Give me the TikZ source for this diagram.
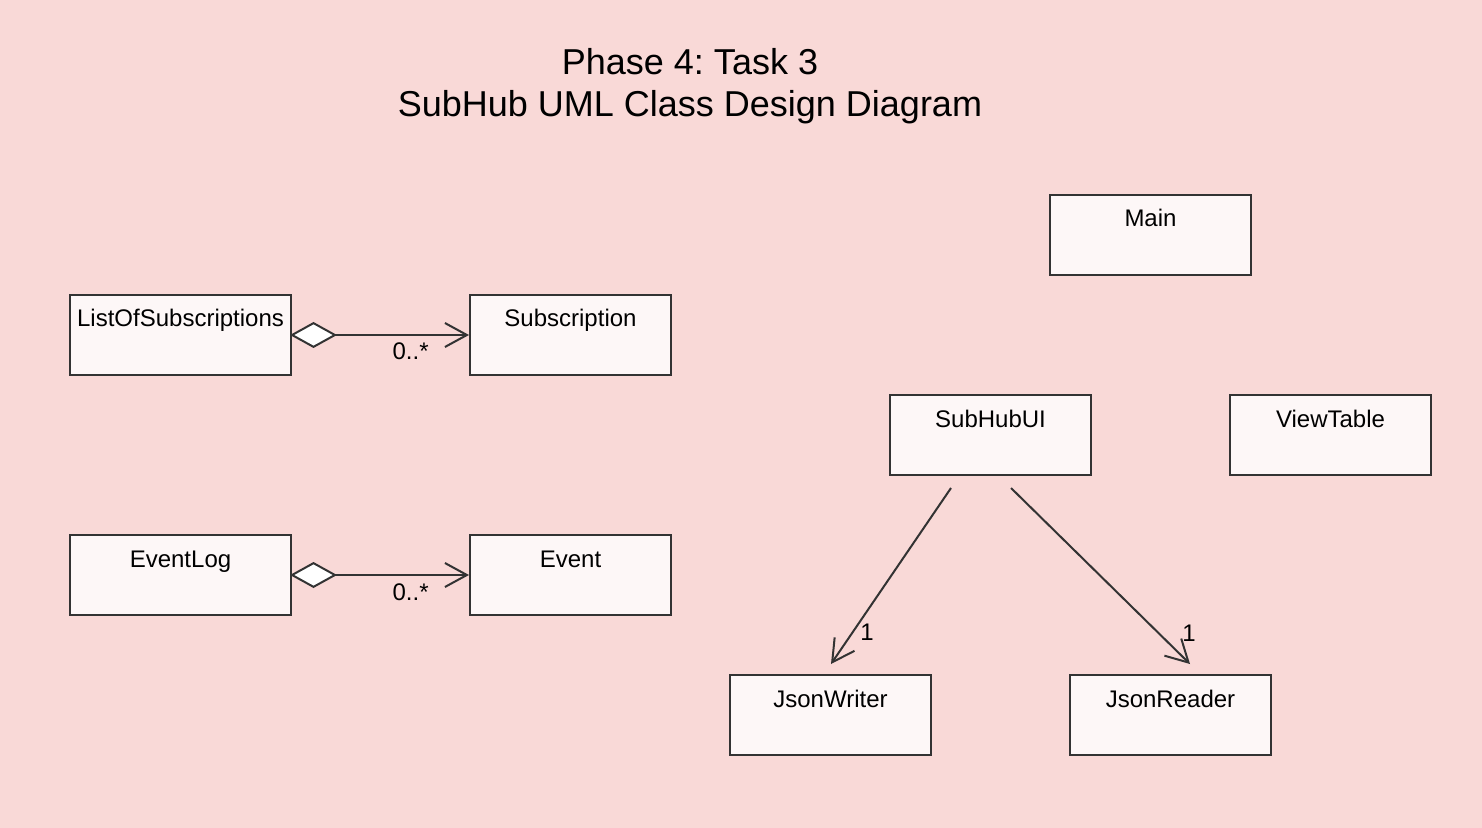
\documentclass[tikz,border=0pt]{standalone}
\usepackage{fontspec}
\setmainfont{Liberation Sans}
\frenchspacing
\usetikzlibrary{arrows.meta,calc}
\definecolor{bgpink}{HTML}{F9D9D7}
\definecolor{boxfill}{HTML}{FDF7F7}
\definecolor{stroke}{HTML}{333333}
\tikzset{
  cls/.style={draw=stroke, fill=boxfill, line width=1pt, minimum width=100.5pt, minimum height=40pt, inner sep=0pt},
  wide/.style={minimum width=110.5pt},
  lbl/.style={font=\fontsize{12}{14}\selectfont, text=black, anchor=base, yshift=-16.5pt, inner sep=0pt},
  mult/.style={font=\fontsize{12}{14}\selectfont, text=black, anchor=base, inner sep=0pt},
  agg/.style={draw=stroke, line width=1pt, shorten <=-1pt, {Diamond[fill=white,length=23.5pt,width=13pt]}-{Straight Barb[length=11pt,width=12pt,line width=1pt]}},
  assoc/.style={draw=stroke, line width=1pt, -{Straight Barb[length=11pt,width=12pt,line width=1pt]}},
  ttl/.style={font=\fontsize{18}{21}\selectfont, text=black, anchor=base, inner sep=0pt}
}
\begin{document}
\begin{tikzpicture}[x=0.5pt,y=-0.5pt]
\fill[bgpink] (0,0) rectangle (1482,828);
\useasboundingbox (0,0) rectangle (1482,828);
\node[ttl] (t1) at (690,75) {Phase 4: Task 3};
\node[ttl] (t2) at (690,117) {SubHub UML Class Design Diagram};

\node[cls,wide,label={[lbl]north:ListOfSubscriptions}] (los) at (180.5,335) {};
\node[cls,label={[lbl]north:Subscription}] (sub) at (570.5,335) {};
\node[cls,wide,label={[lbl]north:EventLog}] (elog) at (180.5,575) {};
\node[cls,label={[lbl]north:Event}] (ev) at (570.5,575) {};
\node[cls,label={[lbl]north:Main}] (main) at (1150.5,235) {};
\node[cls,label={[lbl]north:SubHubUI}] (ui) at (990.5,435) {};
\node[cls,label={[lbl]north:ViewTable}] (vt) at (1330.5,435) {};
\node[cls,label={[lbl]north:JsonWriter}] (jw) at (830.5,715) {};
\node[cls,label={[lbl]north:JsonReader}] (jr) at (1170.5,715) {};

\draw[agg] (los.east) -- node[mult, pos=0.67, yshift=-12.5pt] {0..*} (sub.west);
\draw[agg] (elog.east) -- node[mult, pos=0.67, yshift=-12.5pt] {0..*} (ev.west);

\coordinate (a1s) at ($(ui.south)+(-39.5,12)$);
\coordinate (a1e) at ($(jw.north)+(0.5,-10)$);
\coordinate (a2s) at ($(ui.south)+(20.5,12)$);
\coordinate (a2e) at ($(jr.north)+(19.5,-10)$);
\draw[assoc] (a1s) -- (a1e);
\draw[assoc] (a2s) -- (a2e);
\node[mult] (m1) at (867,640) {1};
\node[mult] (m2) at (1189,641) {1};
\end{tikzpicture}
\end{document}
